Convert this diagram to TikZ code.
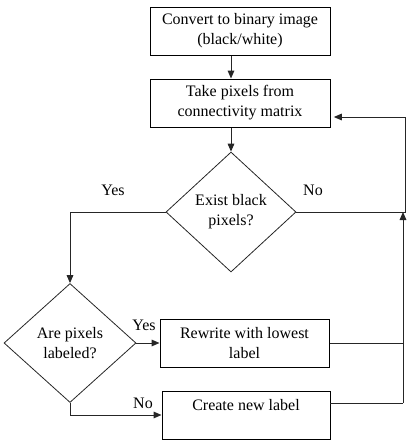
\documentclass[tikz,border=0pt]{standalone}
\usepackage{fontspec}
\setmainfont{Liberation Serif}
\usetikzlibrary{shapes.geometric,arrows.meta}
\begin{document}
\begin{tikzpicture}[x=0.75pt,y=-0.75pt,
  every node/.style={font=\fontsize{12}{15}\selectfont},
  procbox/.style={draw=black,line width=0.75pt,rectangle,align=center,inner sep=0pt,minimum height=36pt},
  decision/.style={draw=black!85,line width=0.6pt,diamond,align=center,inner sep=0pt},
  conn/.style={line width=0.75pt,draw=black!85},
  arr/.style={conn,-{Triangle[length=6pt,width=5pt]}},
  lbl/.style={inner sep=0pt}]
\useasboundingbox (0,0) rectangle (416,447);
\node[procbox,minimum width=135pt] (b1) at (240,31) {Convert to binary image\\(black/white)};
\node[procbox,minimum width=135pt] (b2) at (240,103) {Take pixels from\\connectivity matrix};
\node[decision,minimum width=97.5pt,minimum height=90pt] (d1) at (231,212) {Exist black\\pixels?};
\node[decision,minimum width=99pt,minimum height=89.25pt] (d2) at (70,343) {Are pixels\\labeled?};
\node[procbox,minimum width=126.75pt] (b3) at (244.5,343) {Rewrite with lowest\\label};
\node[procbox,minimum width=126pt] (b4) at (246,415) {Create new label\\~};
\coordinate (rtop) at (405,117);
\coordinate (rmid) at (405,212);
\coordinate (rjoin) at (403,212);
\coordinate (rlow) at (403,403);
\coordinate (b4r) at (330,403);
\coordinate (lft) at (70,212);
\coordinate (bot) at (70,415);
% connectors
\draw[arr] (b1.south -| d1.north) -- (b2.north -| d1.north);
\draw[arr] (b2.south -| d1.north) -- (d1.north);
\draw[conn] (d1.east) -- (rmid) -- (rtop);
\draw[arr] (rtop) -- ([xshift=2.5pt]b2.east |- rtop);
\draw[arr] (d1.west) -- (lft) -- (d2.north);
\draw[arr] (d2.east) -- (b3.west);
\draw[arr] (d2.south) -- (bot) -- (b4.west);
\draw[conn] (b3.east) -- (b3.east -| rlow);
\draw[conn] (b4r) -- (rlow);
\draw[arr] (rlow) -- (rjoin);
% labels
\node[lbl] (yes1) at (113,190) {Yes};
\node[lbl] (no1) at (313,190) {No};
\node[lbl] (yes2) at (144,325) {Yes};
\node[lbl] (no2) at (143,403) {No};
\end{tikzpicture}
\end{document}
